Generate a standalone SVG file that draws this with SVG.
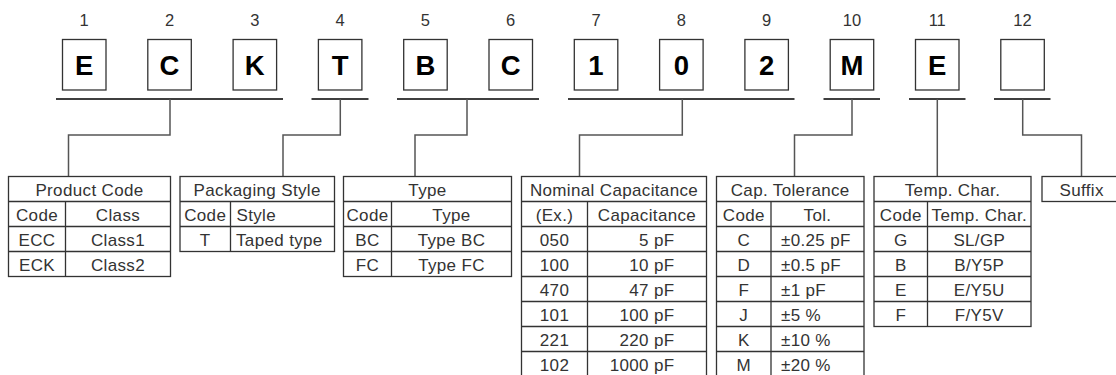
<svg xmlns="http://www.w3.org/2000/svg" width="1116" height="375" viewBox="0 0 1116 375">
<style>
.num{font-family:"Liberation Sans",Arial,sans-serif;font-size:16.5px;fill:#333;text-anchor:middle}
.box{fill:#fff;stroke:#333;stroke-width:1.3}
.let{font-family:"Liberation Sans",Arial,sans-serif;font-size:27.5px;font-weight:bold;fill:#000;text-anchor:middle}
.br{stroke:#000;stroke-width:1.3;fill:none}
.cn{stroke:#555;stroke-width:1.5;fill:none}
.tb{fill:#fff;stroke:#333;stroke-width:1.3}
.ln{stroke:#333;stroke-width:1.3}
.t{font-family:"Liberation Sans",Arial,sans-serif;font-size:17px;letter-spacing:0.35px;fill:#333;text-anchor:middle}
.l{text-anchor:start}
.r{text-anchor:end}
</style>
<rect width="1116" height="375" fill="#fff"/>
<g id="digits">
<g id="d1"><text class="num" x="84.2" y="26">1</text><rect class="box" x="62.5" y="39.5" width="43.5" height="50.5"/><text class="let" x="84.2" y="74.5">E</text></g>
<g id="d2"><text class="num" x="169.5" y="26">2</text><rect class="box" x="147.8" y="39.5" width="43.5" height="50.5"/><text class="let" x="169.5" y="74.5">C</text></g>
<g id="d3"><text class="num" x="254.8" y="26">3</text><rect class="box" x="233.1" y="39.5" width="43.5" height="50.5"/><text class="let" x="254.8" y="74.5">K</text></g>
<g id="d4"><text class="num" x="340.1" y="26">4</text><rect class="box" x="318.4" y="39.5" width="43.5" height="50.5"/><text class="let" x="340.1" y="74.5">T</text></g>
<g id="d5"><text class="num" x="425.4" y="26">5</text><rect class="box" x="403.7" y="39.5" width="43.5" height="50.5"/><text class="let" x="425.4" y="74.5">B</text></g>
<g id="d6"><text class="num" x="510.7" y="26">6</text><rect class="box" x="489" y="39.5" width="43.5" height="50.5"/><text class="let" x="510.7" y="74.5">C</text></g>
<g id="d7"><text class="num" x="596" y="26">7</text><rect class="box" x="574.3" y="39.5" width="43.5" height="50.5"/><text class="let" x="596" y="74.5">1</text></g>
<g id="d8"><text class="num" x="681.3" y="26">8</text><rect class="box" x="659.6" y="39.5" width="43.5" height="50.5"/><text class="let" x="681.3" y="74.5">0</text></g>
<g id="d9"><text class="num" x="766.6" y="26">9</text><rect class="box" x="744.9" y="39.5" width="43.5" height="50.5"/><text class="let" x="766.6" y="74.5">2</text></g>
<g id="d10"><text class="num" x="851.9" y="26">10</text><rect class="box" x="830.2" y="39.5" width="43.5" height="50.5"/><text class="let" x="851.9" y="74.5">M</text></g>
<g id="d11"><text class="num" x="937.2" y="26">11</text><rect class="box" x="915.5" y="39.5" width="43.5" height="50.5"/><text class="let" x="937.2" y="74.5">E</text></g>
<g id="d12"><text class="num" x="1022.5" y="26">12</text><rect class="box" x="1000.8" y="39.5" width="43.5" height="50.5"/></g>
</g>
<g id="connectors">
<path class="br" d="M56 99H283M311.5 99H368.5M397 99H539M568 99H794.5M823.5 99H880M909 99H965.5M994 99H1050.5"/>
<path class="cn" d="M170 99V135H68.5V176.5"/>
<path class="cn" d="M340.3 99V135H283V176.5"/>
<path class="cn" d="M467 99V135H415V176.5"/>
<path class="cn" d="M682.3 99V135H579.5V176.5"/>
<path class="cn" d="M852 99V135H794.5V176.5"/>
<path class="cn" d="M937.3 99V176.5"/>
<path class="cn" d="M1022.7 99V135H1081.5V176.5"/>
</g>
<g id="product-code">
<rect class="tb" x="8.5" y="176.5" width="162" height="100"/>
<path class="ln" d="M8.5 201.5H170.5M8.5 226.5H170.5M8.5 251.5H170.5M65.5 201.5V276.5"/>
<text class="t" x="89.5" y="196">Product Code</text>
<text class="t" x="37" y="221">Code</text><text class="t" x="118" y="221">Class</text>
<text class="t" x="37" y="246">ECC</text><text class="t" x="118" y="246">Class1</text>
<text class="t" x="37" y="271">ECK</text><text class="t" x="118" y="271">Class2</text>
</g>
<g id="packaging-style">
<rect class="tb" x="180" y="176.5" width="154.5" height="75"/>
<path class="ln" d="M180 201.5H334.5M180 226.5H334.5M230.5 201.5V251.5"/>
<text class="t" x="257.2" y="196">Packaging Style</text>
<text class="t" x="205.2" y="221">Code</text><text class="t l" x="236.5" y="221">Style</text>
<text class="t" x="205.2" y="246">T</text><text class="t l" x="236" y="246">Taped type</text>
</g>
<g id="type">
<rect class="tb" x="343.5" y="176.5" width="168" height="100"/>
<path class="ln" d="M343.5 201.5H511.5M343.5 226.5H511.5M343.5 251.5H511.5M391.5 201.5V276.5"/>
<text class="t" x="427.5" y="196">Type</text>
<text class="t" x="367.5" y="221">Code</text><text class="t" x="451.5" y="221">Type</text>
<text class="t" x="367.5" y="246">BC</text><text class="t" x="451.5" y="246">Type BC</text>
<text class="t" x="367.5" y="271">FC</text><text class="t" x="451.5" y="271">Type FC</text>
</g>
<g id="nominal-capacitance">
<rect class="tb" x="521.5" y="176.5" width="185" height="200"/>
<path class="ln" d="M521.5 201.5H706.5M521.5 226.5H706.5M521.5 251.5H706.5M521.5 276.5H706.5M521.5 301.5H706.5M521.5 326.5H706.5M521.5 351.5H706.5M587.5 201.5V376.5"/>
<text class="t" x="614" y="196">Nominal Capacitance</text>
<text class="t" x="554.5" y="221">(Ex.)</text><text class="t" x="647" y="221">Capacitance</text>
<text class="t" x="554.5" y="246">050</text><text class="t r" x="674.5" y="246">5 pF</text>
<text class="t" x="554.5" y="271">100</text><text class="t r" x="674.5" y="271">10 pF</text>
<text class="t" x="554.5" y="296">470</text><text class="t r" x="674.5" y="296">47 pF</text>
<text class="t" x="554.5" y="321">101</text><text class="t r" x="674.5" y="321">100 pF</text>
<text class="t" x="554.5" y="346">221</text><text class="t r" x="674.5" y="346">220 pF</text>
<text class="t" x="554.5" y="371">102</text><text class="t r" x="674.5" y="371">1000 pF</text>
</g>
<g id="cap-tolerance">
<rect class="tb" x="716.5" y="176.5" width="147.5" height="200"/>
<path class="ln" d="M716.5 201.5H864M716.5 226.5H864M716.5 251.5H864M716.5 276.5H864M716.5 301.5H864M716.5 326.5H864M716.5 351.5H864M771 201.5V376.5"/>
<text class="t" x="790.2" y="196">Cap. Tolerance</text>
<text class="t" x="743.8" y="221">Code</text><text class="t" x="817.5" y="221">Tol.</text>
<text class="t" x="743.8" y="246">C</text><text class="t l" x="781" y="246">±0.25 pF</text>
<text class="t" x="743.8" y="271">D</text><text class="t l" x="781" y="271">±0.5 pF</text>
<text class="t" x="743.8" y="296">F</text><text class="t l" x="781" y="296">±1 pF</text>
<text class="t" x="743.8" y="321">J</text><text class="t l" x="781" y="321">±5 %</text>
<text class="t" x="743.8" y="346">K</text><text class="t l" x="781" y="346">±10 %</text>
<text class="t" x="743.8" y="371">M</text><text class="t l" x="781" y="371">±20 %</text>
</g>
<g id="temp-char">
<rect class="tb" x="874" y="176.5" width="157" height="150"/>
<path class="ln" d="M874 201.5H1031M874 226.5H1031M874 251.5H1031M874 276.5H1031M874 301.5H1031M927.5 201.5V326.5"/>
<text class="t" x="952.5" y="196">Temp. Char.</text>
<text class="t" x="900.8" y="221">Code</text><text class="t" x="979.3" y="221">Temp. Char.</text>
<text class="t" x="900.8" y="246">G</text><text class="t" x="979.3" y="246">SL/GP</text>
<text class="t" x="900.8" y="271">B</text><text class="t" x="979.3" y="271">B/Y5P</text>
<text class="t" x="900.8" y="296">E</text><text class="t" x="979.3" y="296">E/Y5U</text>
<text class="t" x="900.8" y="321">F</text><text class="t" x="979.3" y="321">F/Y5V</text>
</g>
<g id="suffix">
<rect class="tb" x="1042" y="176.5" width="80" height="25"/>
<text class="t" x="1081.7" y="196">Suffix</text>
</g>
</svg>
